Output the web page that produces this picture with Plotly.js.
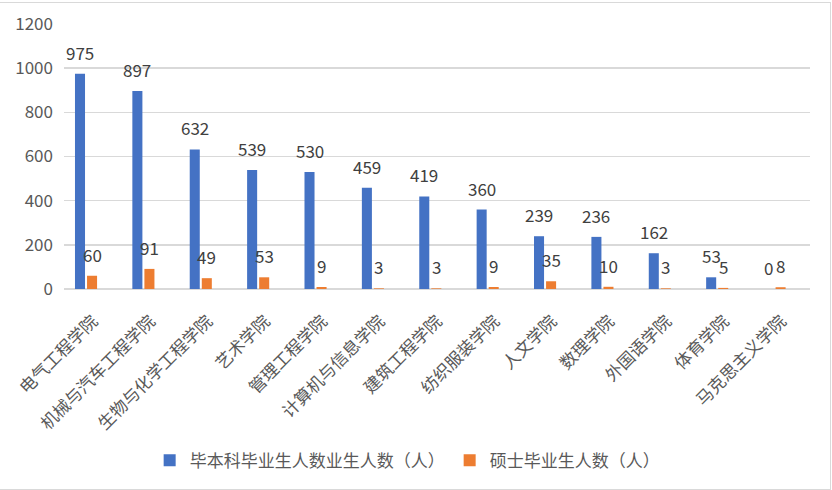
<!DOCTYPE html>
<html>
<head>
<meta charset="utf-8">
<script src="https://cdn.plot.ly/plotly-3.0.1.min.js"></script>
<style>
  body { margin: 0; background: #fff; }
  #chart { width: 832px; height: 490px; }
  #frame { position: absolute; left: -1px; top: 2px; width: 830px; height: 486px;
           border: 1px solid #d9d9d9; pointer-events: none; }
</style>
</head>
<body>
<div id="chart"></div>
<div id="frame"></div>
<script>
const colleges = ['电气工程学院', '机械与汽车工程学院', '生物与化学工程学院', '艺术学院', '管理工程学院',
  '计算机与信息学院', '建筑工程学院', '纺织服装学院', '人文学院', '数理学院', '外国语学院', '体育学院', '马克思主义学院'];
const undergrad = [975, 897, 632, 539, 530, 459, 419, 360, 239, 236, 162, 53, 0];
const master = [60, 91, 49, 53, 9, 3, 3, 9, 35, 10, 3, 5, 8];
const seriesNames = ['毕本科毕业生人数业生人数（人）', '硕士毕业生人数（人）'];

const font = '"Noto Sans CJK SC", "Noto Sans", sans-serif';
const barW = 0.175;
const offsets = [-0.31, -0.10];
const catPx = 745.7 / colleges.length;

const traces = [undergrad, master].map((vals, i) => ({
    type: 'bar',
    name: seriesNames[i],
    x: colleges,
    y: vals,
    width: barW,
    offset: offsets[i],
    marker: { color: i === 0 ? '#4472C4' : '#ED7D31' },
    hoverinfo: 'x+y'
}));

// data labels above each bar
const annotations = [];
[undergrad, master].forEach((vals, i) => {
    vals.forEach((v, j) => {
        annotations.push({
            x: colleges[j], y: v, xref: 'x', yref: 'y',
            text: String(v), showarrow: false,
            xanchor: 'center', yanchor: 'bottom',
            xshift: (offsets[i] + barW / 2) * catPx,
            yshift: 7,
            font: { family: font, size: 17, color: '#404040' }
        });
    });
});

const layout = {
    width: 832, height: 490,
    margin: { l: 64, r: 22, t: 24, b: 199 },
    paper_bgcolor: '#fff', plot_bgcolor: '#fff',
    font: { family: font, size: 17, color: '#595959' },
    showlegend: true,
    legend: {
        orientation: 'h', x: 0.46, xanchor: 'center', y: -0.648, yanchor: 'middle',
        font: { family: font, size: 17, color: '#595959' }
    },
    xaxis: {
        type: 'category', tickangle: -45, showgrid: false, zeroline: false,
        showline: false, ticks: '', ticklabelstandoff: 18,
        tickfont: { family: font, size: 17, color: '#595959' }
    },
    yaxis: {
        range: [0, 1200], dtick: 200, showgrid: true, gridcolor: '#d9d9d9', gridwidth: 1.5,
        zeroline: true, zerolinecolor: '#d9d9d9', zerolinewidth: 1.5,
        ticks: '', ticklabelstandoff: 10, tickfont: { family: font, size: 17, color: '#595959' }
    },
    annotations: annotations
};

Plotly.newPlot('chart', traces, layout, { displayModeBar: false, staticPlot: true });
</script>
</body>
</html>
